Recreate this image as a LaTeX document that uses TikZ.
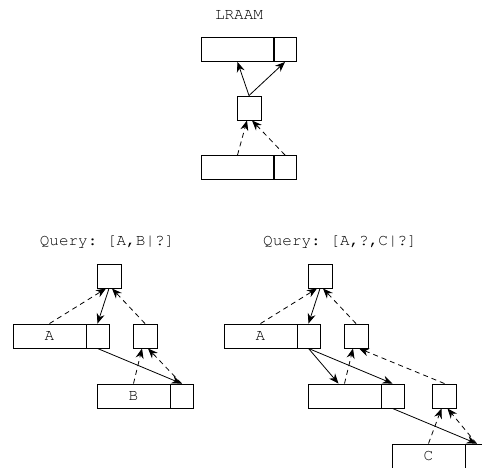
\documentclass[tikz,border=0pt]{standalone}
\usepackage[T1]{fontenc}
\usepackage{courier}
\usetikzlibrary{arrows.meta}

\tikzset{
  cell/.style={draw, line width=0.9pt, minimum height=24pt, inner sep=0pt, font=\ttfamily\fontsize{16}{18}\selectfont},
  labelcell/.style={cell, minimum width=73pt},
  ptrcell/.style={cell, minimum width=23pt},
  code/.style={cell, minimum width=24pt},
  title/.style={font=\ttfamily\fontsize{16}{18}\selectfont\frenchspacing},
  enc/.style={line width=0.8pt, dash pattern=on 5pt off 4pt, -{Stealth[length=10pt,width=8pt]}},
  dec/.style={line width=0.8pt, -{Stealth[length=10pt,width=8pt]}}
}

\begin{document}
\begin{tikzpicture}[x=1pt,y=-1pt]
        \useasboundingbox (0,0) rectangle (482,467);

        % LRAAM
        \node[title] (lraam) at (239,15) {LRAAM};
        \node[labelcell] (tl) at (237.5,49.5) {};
        \node[ptrcell] (tr) at (285,49.5) {};
        \node[code] (lc) at (249,108) {};
        \node[labelcell] (bl) at (237.5,167.5) {};
        \node[ptrcell] (br) at (285,167.5) {};
        \draw[dec] (lc.north) -- (tl.south);
        \draw[dec] (lc.north) -- (tr.south);
        \draw[enc] (bl.north) -- ([xshift=-2pt]lc.south);
        \draw[enc] (br.north) -- ([xshift=3pt]lc.south);

        % query [A,B|?]
        \node[title] (qa) at (107,242) {Query: [A,B|?]};
        \node[code] (pa) at (109,276) {};
        \node[labelcell] (aal) at (49.5,336) {A};
        \node[ptrcell] (aar) at (97.5,336) {};
        \node[code] (pb) at (145,336) {};
        \node[labelcell] (abl) at (133.5,396) {B};
        \node[ptrcell] (abr) at (181.5,396) {};
        \draw[dec] (pa.south) -- (aar.north);
        \draw[enc] (aal.north) -- ([xshift=-3pt]pa.south);
        \draw[enc] (pb.north) -- ([xshift=3pt]pa.south);
        \draw[dec] (aar.south) -- (abr.north);
        \draw[enc] (abl.north) -- ([xshift=-3pt]pb.south);
        \draw[enc] (abr.north) -- ([xshift=3pt]pb.south);

        % query [A,?,C|?]
        \node[title] (qb) at (340,242) {Query: [A,?,C|?]};
        \node[code] (pc) at (320,276) {};
        \node[labelcell] (bal) at (260.5,336) {A};
        \node[ptrcell] (bar) at (308.5,336) {};
        \node[code] (pd) at (356,336) {};
        \node[labelcell] (bml) at (344.5,396) {};
        \node[ptrcell] (bmr) at (392.5,396) {};
        \node[code] (pe) at (444.5,396) {};
        \node[labelcell] (bcl) at (428.5,456) {C};
        \node[ptrcell] (bcr) at (476.5,456) {};
        \draw[dec] (pc.south) -- (bar.north);
        \draw[enc] (bal.north) -- ([xshift=-3pt]pc.south);
        \draw[enc] (pd.north) -- ([xshift=3pt]pc.south);
        \draw[dec] (bar.south) -- ([xshift=-6pt]bml.north);
        \draw[dec] (bar.south) -- (bmr.north);
        \draw[enc] (bml.north) -- ([xshift=-3pt]pd.south);
        \draw[enc] (pe.north) -- ([xshift=3pt]pd.south);
        \draw[dec] (bmr.south) -- (bcr.north);
        \draw[enc] (bcl.north) -- ([xshift=-3pt]pe.south);
        \draw[enc] (bcr.north) -- ([xshift=3pt]pe.south);
\end{tikzpicture}
\end{document}
